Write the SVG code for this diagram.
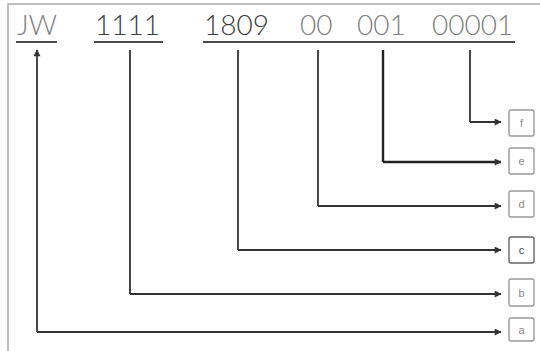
<svg xmlns="http://www.w3.org/2000/svg" width="540" height="351" viewBox="0 0 540 351">
<defs>
<style>
.code{font-family:Lato,"Liberation Sans",sans-serif;font-size:28px;font-weight:300}
.dark{fill:#3c3c3c}
.light{fill:#808080}
.ul{stroke:#4a4a4a;stroke-width:2.2;fill:none}
.conn{stroke:#333;stroke-width:1.8;fill:none}
.box{fill:#fff;stroke:#999;stroke-width:1.4}
.lbl{font-family:"Liberation Sans",sans-serif;font-size:11px;fill:#888;text-anchor:middle}
</style>
<marker id="ah" viewBox="0 0 10 10" refX="9" refY="5" markerWidth="8" markerHeight="7" orient="auto-start-reverse" markerUnits="userSpaceOnUse">
<path d="M0,0 L10,5 L0,10 Z" fill="#333"/>
</marker>
</defs>
<rect x="0" y="0" width="540" height="351" fill="#fff"/>
<path d="M8,351 V4 H540" stroke="#aaa" stroke-width="1.5" fill="none"/>
<g id="code">
<text class="code light" x="17" y="35">JW</text>
<text class="code dark" x="95" y="35">1111</text>
<text class="code dark" x="204" y="35">1809</text>
<text class="code light" x="300" y="35">00</text>
<text class="code light" x="357" y="35">001</text>
<text class="code light" x="432" y="35">00001</text>
<path class="ul" d="M16,42 H57 M94,42 H163 M203,42 H515"/>
</g>
<g id="connectors">
<path class="conn" d="M37,332 V50" marker-end="url(#ah)"/>
<path class="conn" d="M37,332 H501" marker-end="url(#ah)"/>
<path class="conn" d="M130,294 V50 M130,294 H501" marker-end="url(#ah)"/>
<path class="conn" d="M238,250 V50 M238,250 H501" marker-end="url(#ah)"/>
<path class="conn" d="M318,206 V50 M318,206 H501" marker-end="url(#ah)"/>
<path class="conn" style="stroke-width:2.4;stroke:#222" d="M383,162 V50 M383,162 H501" marker-end="url(#ah)"/>
<path class="conn" d="M470,122 V50 M470,122 H501" marker-end="url(#ah)"/>
</g>
<g id="node-f"><rect class="box" x="509" y="110" width="25" height="26" rx="2"/><text class="lbl" x="521.5" y="127">f</text></g>
<g id="node-e"><rect class="box" x="509" y="148" width="25" height="26" rx="2"/><text class="lbl" x="521.5" y="165">e</text></g>
<g id="node-d"><rect class="box" x="509" y="191" width="25" height="26" rx="2"/><text class="lbl" x="521.5" y="208">d</text></g>
<g id="node-c"><rect class="box" style="stroke:#666" x="509" y="237" width="25" height="26" rx="2"/><text class="lbl" style="fill:#444" x="521.5" y="254">c</text></g>
<g id="node-b"><rect class="box" x="509" y="279" width="25" height="27" rx="2"/><text class="lbl" x="521.5" y="297">b</text></g>
<g id="node-a"><rect class="box" x="509" y="318" width="25" height="23" rx="2"/><text class="lbl" x="521.5" y="334">a</text></g>
</svg>
